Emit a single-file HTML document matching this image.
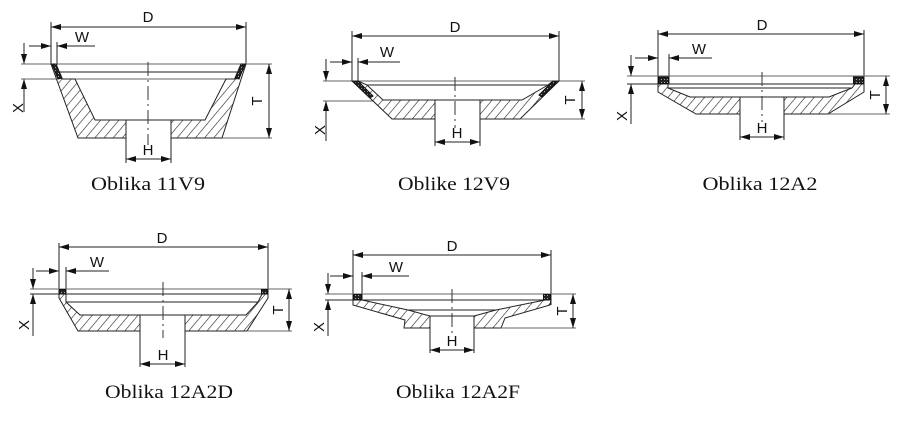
<!DOCTYPE html>
<html><head><meta charset="utf-8"><style>
html,body{margin:0;padding:0;background:#fff;}
svg{display:block;}
.l{stroke:#222;stroke-width:1;fill:none;}
.g{stroke:#666;stroke-width:1;fill:none;}
.h{stroke:#222;stroke-width:1;fill:url(#hat);}
.c{stroke:#333;stroke-width:1;stroke-dasharray:14 4 2 4;fill:none;}
.d{stroke:#222;stroke-width:1;fill:none;marker-start:url(#a);marker-end:url(#a);}
.s{stroke:#222;stroke-width:1;fill:none;marker-end:url(#a);}
.t{font-family:"Liberation Sans",sans-serif;font-size:15px;fill:#111;}
.cap{font-family:"Liberation Serif",serif;font-size:19px;fill:#111;}
.dm{fill:url(#dmp);stroke:#111;stroke-width:1;}
</style></head><body>
<svg width="900" height="434" viewBox="0 0 900 434" xmlns="http://www.w3.org/2000/svg">
<defs>
<pattern id="hat" patternUnits="userSpaceOnUse" width="7" height="7" patternTransform="rotate(40)">
<rect width="7" height="7" fill="#fff"/><line x1="0" y1="0" x2="0" y2="7" stroke="#222" stroke-width="1.2"/>
</pattern>
<pattern id="dmp" patternUnits="userSpaceOnUse" width="3" height="3">
<rect width="3" height="3" fill="#222"/><rect x="1" y="1" width="1" height="1" fill="#aaa"/>
</pattern>
<marker id="a" viewBox="0 0 10 6" refX="10" refY="3" markerWidth="10" markerHeight="6" orient="auto-start-reverse" markerUnits="userSpaceOnUse">
<path d="M0,0 L10,3 L0,6 z" fill="#111"/>
</marker>
</defs>

<!-- ===== 1: 11V9 ===== -->
<g>
<line class="l" x1="51" y1="22" x2="51" y2="65"/>
<line class="l" x1="246" y1="22" x2="246" y2="64"/>
<line class="d" x1="51" y1="27" x2="246" y2="27"/>
<text class="t" x="148" y="22" text-anchor="middle">D</text>
<line class="s" x1="29" y1="46" x2="51" y2="46"/>
<line class="s" x1="95" y1="46" x2="57" y2="46"/>
<line class="l" x1="57" y1="42" x2="57" y2="65"/>
<text class="t" x="82" y="42" text-anchor="middle">W</text>
<line class="s" x1="24" y1="43" x2="24" y2="64"/>
<line class="s" x1="24" y1="112" x2="24" y2="79"/>
<text class="t" transform="translate(23,108) rotate(-90)" text-anchor="middle">X</text>
<line class="g" x1="21" y1="64" x2="272" y2="64"/>
<line class="g" x1="21" y1="79" x2="230" y2="79"/>
<line class="l" x1="60" y1="72" x2="237" y2="72"/>
<path class="h" d="M51,64 L78,138 L126,138 L126,120 L95,120 L75,79 L62,79 Z"/>
<path class="h" d="M246,64 L222,138 L171,138 L171,120 L205,120 L226,79 L236,79 Z"/>
<path class="dm" d="M52,64 L56,64 L62,78 L58,79 Z"/>
<path class="dm" d="M245,64 L241,64 L235,78 L239,79 Z"/>
<line class="l" x1="126" y1="120" x2="171" y2="120"/>
<line class="c" x1="148" y1="62" x2="148" y2="145"/>
<line class="g" x1="222" y1="138" x2="272" y2="138"/>
<line class="d" x1="269" y1="64" x2="269" y2="138"/>
<text class="t" transform="translate(262,101) rotate(-90)" text-anchor="middle">T</text>
<line class="l" x1="126" y1="138" x2="126" y2="163"/>
<line class="l" x1="171" y1="138" x2="171" y2="163"/>
<line class="d" x1="126" y1="159" x2="171" y2="159"/>
<text class="t" x="148" y="155" text-anchor="middle">H</text>
<text class="cap" x="148" y="190" text-anchor="middle" textLength="114" lengthAdjust="spacingAndGlyphs">Oblika 11V9</text>
</g>

<!-- ===== 2: 12V9 ===== -->
<g>
<line class="l" x1="352" y1="31" x2="352" y2="81"/>
<line class="l" x1="559" y1="31" x2="559" y2="81"/>
<line class="d" x1="352" y1="36" x2="559" y2="36"/>
<text class="t" x="455" y="32" text-anchor="middle">D</text>
<line class="s" x1="330" y1="62" x2="352" y2="62"/>
<line class="s" x1="400" y1="62" x2="358" y2="62"/>
<line class="l" x1="358" y1="58" x2="358" y2="82"/>
<text class="t" x="387" y="57" text-anchor="middle">W</text>
<line class="s" x1="326" y1="59" x2="326" y2="81"/>
<line class="s" x1="326" y1="141" x2="326" y2="101"/>
<text class="t" transform="translate(325,130) rotate(-90)" text-anchor="middle">X</text>
<line class="g" x1="323" y1="81" x2="585" y2="81"/>
<line class="g" x1="323" y1="101" x2="383" y2="101"/>
<line class="l" x1="362" y1="85" x2="553" y2="85"/>
<path class="h" d="M352,81 L392,119 L435,119 L435,100 L383,100 L367,85 L358,81 Z"/>
<path class="h" d="M559,81 L520,119 L480,119 L480,100 L522,100 L548,85 L553,81 Z"/>
<path class="dm" d="M354,82 L358,81 L373,96 L370,98 Z"/>
<path class="dm" d="M557,82 L553,81 L539,95 L542,97 Z"/>
<line class="l" x1="435" y1="100" x2="480" y2="100"/>
<line class="c" x1="455" y1="77" x2="455" y2="128"/>
<line class="g" x1="520" y1="119" x2="585" y2="119"/>
<line class="d" x1="582" y1="81" x2="582" y2="119"/>
<text class="t" transform="translate(575,100) rotate(-90)" text-anchor="middle">T</text>
<line class="l" x1="435" y1="119" x2="435" y2="146"/>
<line class="l" x1="480" y1="119" x2="480" y2="146"/>
<line class="d" x1="435" y1="142" x2="480" y2="142"/>
<text class="t" x="457" y="138" text-anchor="middle">H</text>
<text class="cap" x="454" y="190" text-anchor="middle" textLength="112" lengthAdjust="spacingAndGlyphs">Oblike 12V9</text>
</g>

<!-- ===== 3: 12A2 ===== -->
<g>
<line class="l" x1="658" y1="30" x2="658" y2="92"/>
<line class="l" x1="864" y1="30" x2="864" y2="92"/>
<line class="d" x1="658" y1="34" x2="864" y2="34"/>
<text class="t" x="762" y="30" text-anchor="middle">D</text>
<line class="s" x1="635" y1="58" x2="658" y2="58"/>
<line class="s" x1="712" y1="58" x2="669" y2="58"/>
<line class="l" x1="669" y1="54" x2="669" y2="84"/>
<text class="t" x="699" y="54" text-anchor="middle">W</text>
<line class="s" x1="631" y1="55" x2="631" y2="76"/>
<line class="s" x1="631" y1="124" x2="631" y2="84"/>
<text class="t" transform="translate(627,116) rotate(-90)" text-anchor="middle">X</text>
<line class="g" x1="627" y1="76" x2="890" y2="76"/>
<line class="l" x1="627" y1="84" x2="857" y2="84"/>
<line class="l" x1="668" y1="88" x2="852" y2="88"/>
<path class="h" d="M658,84 L658,92 L696,114 L740,114 L740,97 L690,97 L668,88 L668,84 Z"/>
<path class="h" d="M864,84 L864,92 L828,114 L784,114 L784,97 L829,97 L852,88 L855,84 Z"/>
<rect class="dm" x="658.5" y="77" width="10" height="6.5"/>
<rect class="dm" x="853.5" y="77" width="10" height="6.5"/>
<line class="l" x1="740" y1="97" x2="784" y2="97"/>
<line class="c" x1="762" y1="72" x2="762" y2="122"/>
<line class="g" x1="828" y1="114" x2="890" y2="114"/>
<line class="d" x1="886" y1="76" x2="886" y2="114"/>
<text class="t" transform="translate(880,95) rotate(-90)" text-anchor="middle">T</text>
<line class="l" x1="740" y1="114" x2="740" y2="140"/>
<line class="l" x1="784" y1="114" x2="784" y2="140"/>
<line class="d" x1="740" y1="137" x2="784" y2="137"/>
<text class="t" x="762" y="133" text-anchor="middle">H</text>
<text class="cap" x="760" y="190" text-anchor="middle" textLength="115" lengthAdjust="spacingAndGlyphs">Oblika 12A2</text>
</g>

<!-- ===== 4: 12A2D ===== -->
<g>
<line class="l" x1="59" y1="243" x2="59" y2="298"/>
<line class="l" x1="268" y1="243" x2="268" y2="298"/>
<line class="d" x1="59" y1="247" x2="268" y2="247"/>
<text class="t" x="162" y="243" text-anchor="middle">D</text>
<line class="s" x1="36" y1="271" x2="59" y2="271"/>
<line class="s" x1="109" y1="271" x2="66" y2="271"/>
<line class="l" x1="66" y1="267" x2="66" y2="294"/>
<text class="t" x="97" y="267" text-anchor="middle">W</text>
<line class="s" x1="33" y1="268" x2="33" y2="289"/>
<line class="s" x1="33" y1="336" x2="33" y2="294"/>
<text class="t" transform="translate(29,325) rotate(-90)" text-anchor="middle">X</text>
<line class="g" x1="30" y1="289" x2="292" y2="289"/>
<line class="l" x1="30" y1="294" x2="268" y2="294"/>
<line class="l" x1="66" y1="302" x2="258" y2="302"/>
<path class="h" d="M59,294 L59,298 L78,331 L140,331 L140,315 L80,315 L66,302 L66,294 Z"/>
<path class="h" d="M268,294 L268,298 L247,331 L185,331 L185,315 L246,315 L258,302 L262,294 Z"/>
<rect class="dm" x="59.5" y="289.5" width="6" height="4.5"/>
<rect class="dm" x="261.5" y="289.5" width="6" height="4.5"/>
<line class="l" x1="140" y1="315" x2="185" y2="315"/>
<line class="c" x1="163" y1="282" x2="163" y2="338"/>
<line class="g" x1="247" y1="331" x2="292" y2="331"/>
<line class="d" x1="289" y1="289" x2="289" y2="331"/>
<text class="t" transform="translate(283,310) rotate(-90)" text-anchor="middle">T</text>
<line class="l" x1="140" y1="331" x2="140" y2="367"/>
<line class="l" x1="185" y1="331" x2="185" y2="367"/>
<line class="d" x1="140" y1="364" x2="185" y2="364"/>
<text class="t" x="163" y="360" text-anchor="middle">H</text>
<text class="cap" x="169" y="398" text-anchor="middle" textLength="128" lengthAdjust="spacingAndGlyphs">Oblika 12A2D</text>
</g>

<!-- ===== 5: 12A2F ===== -->
<g>
<line class="l" x1="353" y1="250" x2="353" y2="305"/>
<line class="l" x1="551" y1="250" x2="551" y2="305"/>
<line class="d" x1="353" y1="255" x2="551" y2="255"/>
<text class="t" x="452" y="251" text-anchor="middle">D</text>
<line class="s" x1="330" y1="276" x2="353" y2="276"/>
<line class="s" x1="409" y1="276" x2="362" y2="276"/>
<line class="l" x1="362" y1="272" x2="362" y2="300"/>
<text class="t" x="396" y="272" text-anchor="middle">W</text>
<line class="s" x1="328" y1="273" x2="328" y2="294"/>
<line class="s" x1="328" y1="336" x2="328" y2="300"/>
<text class="t" transform="translate(324,327) rotate(-90)" text-anchor="middle">X</text>
<line class="g" x1="325" y1="294" x2="576" y2="294"/>
<line class="l" x1="325" y1="300" x2="551" y2="300"/>
<line class="l" x1="393" y1="310" x2="512" y2="310"/>
<path class="h" d="M353,300 L353,305 L405,320 L404,328 L430,328 L430,316 L408,310 L362,300 Z"/>
<path class="h" d="M551,300 L550,305 L505,318 L501,328 L474,328 L474,316 L496,310 L545,300 Z"/>
<rect class="dm" x="353.5" y="294.5" width="8" height="5.5"/>
<rect class="dm" x="543.5" y="294.5" width="7" height="5.5"/>
<line class="l" x1="430" y1="316" x2="474" y2="316"/>
<line class="c" x1="452" y1="289" x2="452" y2="336"/>
<line class="g" x1="501" y1="328" x2="576" y2="328"/>
<line class="d" x1="573" y1="294" x2="573" y2="328"/>
<text class="t" transform="translate(567,311) rotate(-90)" text-anchor="middle">T</text>
<line class="l" x1="430" y1="328" x2="430" y2="353"/>
<line class="l" x1="474" y1="328" x2="474" y2="353"/>
<line class="d" x1="430" y1="350" x2="474" y2="350"/>
<text class="t" x="452" y="346" text-anchor="middle">H</text>
<text class="cap" x="458" y="398" text-anchor="middle" textLength="124" lengthAdjust="spacingAndGlyphs">Oblika 12A2F</text>
</g>
</svg>
</body></html>
